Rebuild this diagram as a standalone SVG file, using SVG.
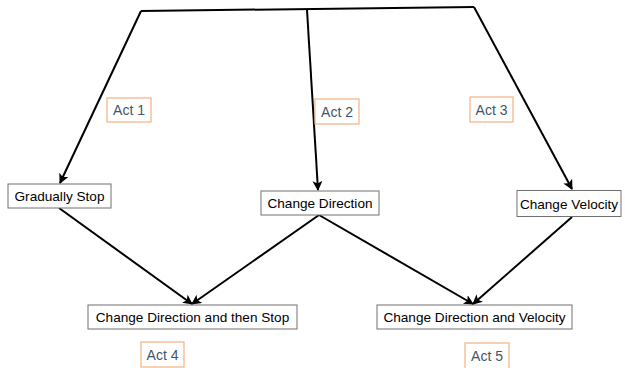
<svg xmlns="http://www.w3.org/2000/svg" width="625" height="368" viewBox="0 0 625 368">
<style>
.node rect{fill:#fff;stroke:#707070;stroke-width:1}
.node text{font-family:"Liberation Sans",Arial,sans-serif;font-size:13.6px;fill:#000;text-anchor:middle}
.act rect{fill:#fff;stroke:#F4B183;stroke-width:1.2}
.act text{font-family:"Liberation Sans",Arial,sans-serif;font-size:14px;fill:#44546A;text-anchor:middle}
.conn{stroke:#000;stroke-width:2;fill:none}
</style>
<defs>
<marker id="ah" viewBox="0 0 10 10" refX="9" refY="5" markerWidth="5" markerHeight="5" orient="auto" markerUnits="strokeWidth">
<path d="M0,0 L10,5 L0,10 L2.5,5 Z" fill="#000"/>
</marker>
</defs>
<rect width="625" height="368" fill="#fff"/>
<g id="connectors">
<path class="conn" d="M141,11 L474,7"/>
<path class="conn" d="M141,11 L60,183" marker-end="url(#ah)"/>
<path class="conn" d="M307,10 L318,190" marker-end="url(#ah)"/>
<path class="conn" d="M474,7 L572,189" marker-end="url(#ah)"/>
<path class="conn" d="M59,208 L192,304" marker-end="url(#ah)"/>
<path class="conn" d="M319,215 L192,304" marker-end="url(#ah)"/>
<path class="conn" d="M319,215 L473,304" marker-end="url(#ah)"/>
<path class="conn" d="M572,217 L473,304" marker-end="url(#ah)"/>
</g>
<g id="gradually-stop" class="node"><rect x="8" y="184" width="103" height="24"/><text x="59.5" y="201">Gradually Stop</text></g>
<g id="change-direction" class="node"><rect x="261" y="191" width="118" height="24"/><text x="320" y="208">Change Direction</text></g>
<g id="change-velocity" class="node"><rect x="517" y="190.5" width="104" height="26"/><text x="569" y="208.5">Change Velocity</text></g>
<g id="change-direction-stop" class="node"><rect x="88" y="305" width="209" height="24"/><text x="192.5" y="322">Change Direction and then Stop</text></g>
<g id="change-direction-velocity" class="node"><rect x="377" y="305" width="195" height="24"/><text x="474.5" y="322">Change Direction and Velocity</text></g>
<g id="act1" class="act"><rect x="107" y="98" width="44" height="24"/><text x="129" y="115">Act 1</text></g>
<g id="act2" class="act"><rect x="315" y="99" width="44" height="25"/><text x="337" y="116.5">Act 2</text></g>
<g id="act3" class="act"><rect x="470" y="97" width="43" height="25"/><text x="491.5" y="114.5">Act 3</text></g>
<g id="act4" class="act"><rect x="141" y="342" width="43" height="25"/><text x="162.5" y="359.5">Act 4</text></g>
<g id="act5" class="act"><rect x="465" y="343" width="44" height="27"/><text x="487" y="360.5">Act 5</text></g>
</svg>
